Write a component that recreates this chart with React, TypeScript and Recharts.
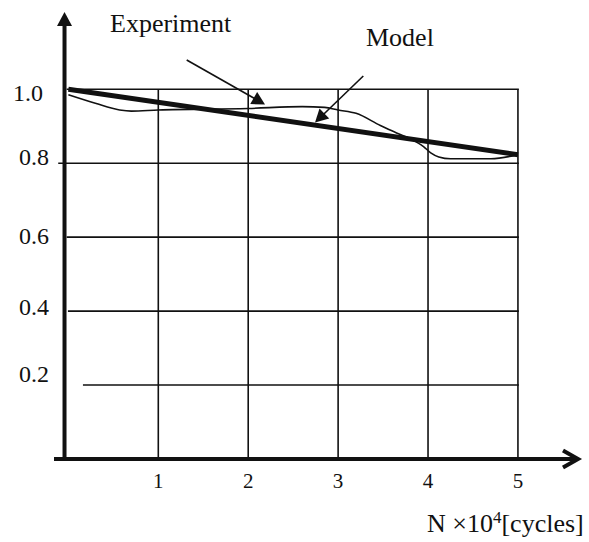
import * as React from "react";
import {
  LineChart,
  Line,
  XAxis,
  YAxis,
  ReferenceLine,
  ReferenceDot,
} from "recharts";

// cycles (x10^4) and normalised values
const experimentX = [0, 0.3, 0.57, 0.7, 1.0, 2.0, 2.6, 2.85, 3.0, 3.2, 3.47, 3.65, 3.85, 3.95, 4.03, 4.12, 4.25, 4.7, 5.0];
const experimentY = [0.985, 0.962, 0.944, 0.941, 0.944, 0.948, 0.953, 0.951, 0.944, 0.935, 0.902, 0.882, 0.86, 0.845, 0.828, 0.817, 0.812, 0.812, 0.823];
const modelX = [0, 5];
const modelY = [1.0, 0.823];

const xTicks = [1, 2, 3, 4, 5];
const yTicks = [0.2, 0.4, 0.6, 0.8, 1.0];
const yTickLabels = ["0.2", "0.4", "0.6", "0.8", "1.0"];

// the hand drawn grid: where each horizontal line starts (in cycles)
const gridStart = [0.162, -0.005, -0.019, -0.113, -0.019];
const gridEnd = 5.01;

const X_DOMAIN: [number, number] = [-0.16, 5.668];
const Y_DOMAIN: [number, number] = [0, 1.209];
const Y_AXIS_AT = -0.043;

// pointer arrows from the captions
const pointers = [
  { from: { x: 1.316, y: 1.079 }, to: { x: 2.187, y: 0.959 } },
  { from: { x: 3.28, y: 1.036 }, to: { x: 2.743, y: 0.91 } },
];
const captions = [
  { label: "Experiment", x: 0.463, y: 1.155 },
  { label: "Model", x: 3.31, y: 1.117 },
];

// label nudges, the scan's labels don't sit exactly on their lines
const yLabelNudge: Record<string, { dx: number; dy: number }> = {
  "1.0": { dx: -11, dy: 11.7 },
  "0.8": { dx: -5, dy: 2 },
  "0.6": { dx: -5, dy: 7 },
  "0.4": { dx: -5, dy: 4.3 },
  "0.2": { dx: -5, dy: -2.7 },
};

const FONT = '"Liberation Serif", "Times New Roman", serif';
const INK = "#111";

const experimentData = experimentX.map((x, i) => ({ x, v: experimentY[i] }));
const modelData = modelX.map((x, i) => ({ x, v: modelY[i] }));

function arrowShape(head: "fill" | "open", len: number, half: number, width: number) {
  return (p: any) => {
    const { x1, y1, x2, y2 } = p;
    const dx = x2 - x1;
    const dy = y2 - y1;
    const d = Math.hypot(dx, dy) || 1;
    const ux = dx / d;
    const uy = dy / d;
    const bx = x2 - ux * len;
    const by = y2 - uy * len;
    const lx = bx - uy * half;
    const ly = by + ux * half;
    const rx = bx + uy * half;
    const ry = by - ux * half;
    if (head === "fill") {
      return (
        <g>
          <line x1={x1} y1={y1} x2={bx + ux} y2={by + uy} stroke={INK} strokeWidth={width} />
          <polygon points={`${x2},${y2} ${lx},${ly} ${rx},${ry}`} fill={INK} />
        </g>
      );
    }
    return (
      <g>
        <line x1={x1} y1={y1} x2={x2 - ux * 2} y2={y2 - uy * 2} stroke={INK} strokeWidth={width} />
        <polyline
          points={`${lx},${ly} ${x2},${y2} ${rx},${ry}`}
          fill="none"
          stroke={INK}
          strokeWidth={width}
          strokeLinejoin="miter"
        />
      </g>
    );
  };
}

function YTick(props: any) {
  const { x, y, payload } = props;
  const label = yTickLabels[yTicks.indexOf(payload.value)] ?? String(payload.value);
  const n = yLabelNudge[label] ?? { dx: -5, dy: 8 };
  return (
    <text x={x + n.dx} y={y + n.dy} textAnchor="end" fontFamily={FONT} fontSize={24} fill={INK}>
      {label}
    </text>
  );
}

function XTick(props: any) {
  const { x, y, payload } = props;
  return (
    <text x={x} y={y + 28.5} textAnchor="middle" fontFamily={FONT} fontSize={21} fill={INK}>
      {payload.value}
    </text>
  );
}

function AxisTitle(props: any) {
  const vb = props.viewBox ?? { x: 54, y: 459 };
  return (
    <text x={vb.x + 373} y={vb.y + 72.7} fontFamily={FONT} fontSize={26} fill={INK}>
      <tspan>N ×10</tspan>
      <tspan dy={-9} fontSize={17}>4</tspan>
      <tspan dy={9}>[cycles]</tspan>
    </text>
  );
}

export default function App() {
  return (
    <div style={{ position: "absolute", left: 0, top: 0, background: "#fff" }}>
      <LineChart width={589} height={542} margin={{ top: 12, right: 11, bottom: 43, left: 0 }}>
        <XAxis
          type="number"
          dataKey="x"
          domain={X_DOMAIN}
          allowDataOverflow
          ticks={xTicks}
          axisLine={false}
          tickLine={false}
          tickSize={0}
          tickMargin={0}
          height={40}
          tick={<XTick />}
          label={<AxisTitle />}
        />
        <YAxis
          type="number"
          domain={Y_DOMAIN}
          allowDataOverflow
          ticks={yTicks}
          axisLine={false}
          tickLine={false}
          tickSize={0}
          tickMargin={0}
          width={54}
          tick={<YTick />}
        />

        {yTicks.map((v, i) => (
          <ReferenceLine
            key={`h${v}`}
            segment={[
              { x: gridStart[i], y: v },
              { x: gridEnd, y: v },
            ]}
            stroke={INK}
            strokeWidth={1.6}
            ifOverflow="visible"
          />
        ))}
        {xTicks.map((t) => (
          <ReferenceLine
            key={`v${t}`}
            segment={[
              { x: t, y: 0 },
              { x: t, y: 1.0 },
            ]}
            stroke={INK}
            strokeWidth={1.6}
            ifOverflow="visible"
          />
        ))}

        <ReferenceLine
          segment={[
            { x: Y_AXIS_AT, y: 0 },
            { x: Y_AXIS_AT, y: Y_DOMAIN[1] },
          ]}
          ifOverflow="visible"
          shape={arrowShape("fill", 14, 7.5, 4)}
        />
        <ReferenceLine
          segment={[
            { x: X_DOMAIN[0], y: 0 },
            { x: X_DOMAIN[1], y: 0 },
          ]}
          ifOverflow="visible"
          shape={arrowShape("open", 15, 8.5, 4)}
        />

        <Line
          data={experimentData}
          dataKey="v"
          type="monotone"
          stroke={INK}
          strokeWidth={1.6}
          dot={false}
          activeDot={false}
          isAnimationActive={false}
        />
        <Line
          data={modelData}
          dataKey="v"
          type="linear"
          stroke={INK}
          strokeWidth={5}
          dot={false}
          activeDot={false}
          isAnimationActive={false}
        />

        {pointers.map((p, i) => (
          <ReferenceLine
            key={`p${i}`}
            segment={[p.from, p.to]}
            ifOverflow="visible"
            shape={arrowShape("fill", 13, 7, 1.6)}
          />
        ))}
        {captions.map((c) => (
          <ReferenceDot
            key={c.label}
            x={c.x}
            y={c.y}
            ifOverflow="visible"
            shape={(p: any) => (
              <text x={p.cx} y={p.cy} fontFamily={FONT} fontSize={26} fill={INK}>
                {c.label}
              </text>
            )}
          />
        ))}
      </LineChart>
    </div>
  );
}
